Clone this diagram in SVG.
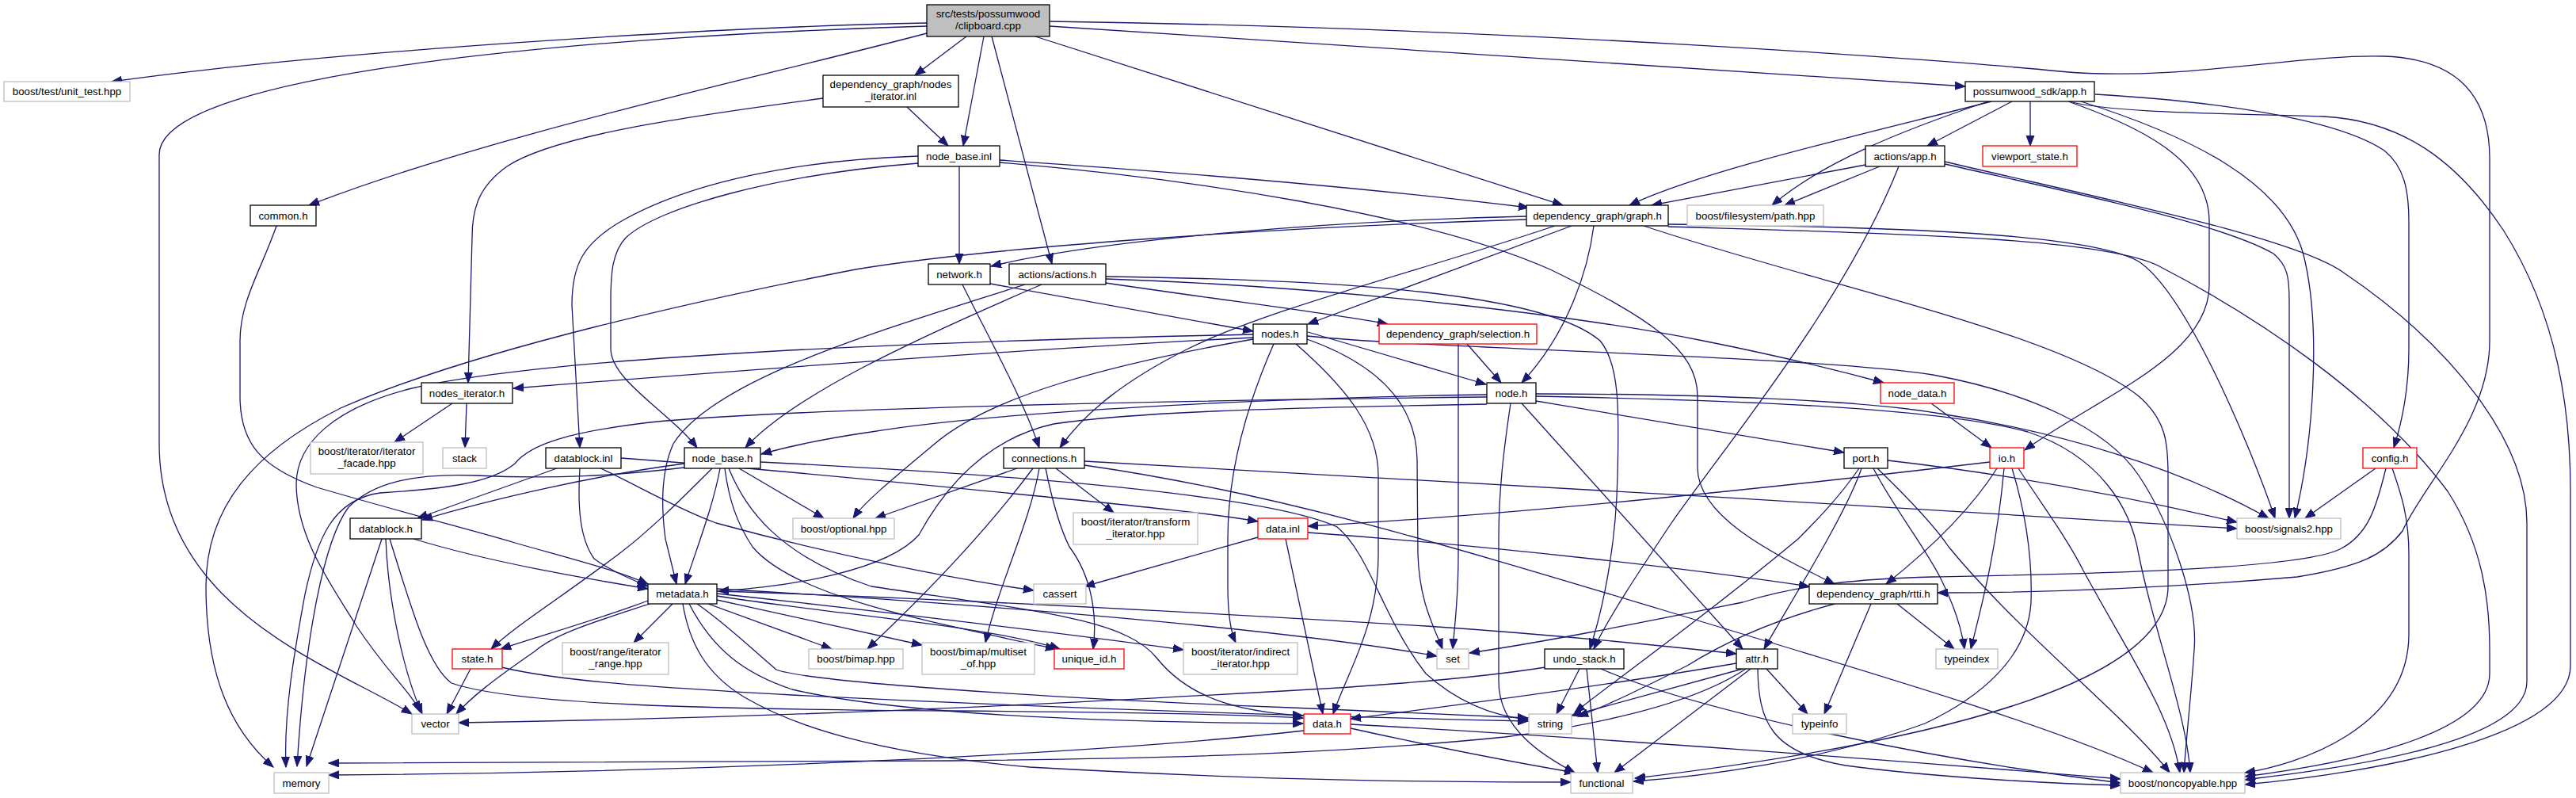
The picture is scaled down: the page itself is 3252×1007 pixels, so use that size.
<svg xmlns="http://www.w3.org/2000/svg" width="3252" height="1007" viewBox="0 0 3252 1007">
<defs>
<marker id="a" markerUnits="userSpaceOnUse" markerWidth="14" markerHeight="11" refX="13" refY="5.5" orient="auto">
<path d="M0,0.5 L13,5.5 L0,10.5 z" fill="#191970" stroke="#191970" stroke-width="1"/>
</marker>
<style>
rect{fill:#fff;stroke:#000;stroke-width:1.3}
.g rect{stroke:#bfbfbf}
.r rect{stroke:#ff0000}
.s rect{fill:#bfbfbf}
text{font-family:"Liberation Sans",Arial,sans-serif;font-size:13.3px;text-anchor:middle;fill:#000}
#edges path{fill:none;stroke:#191970;stroke-width:1.3;marker-end:url(#a)}
</style>
</defs>
<rect x="0" y="0" width="3252" height="1007" style="fill:#fff;stroke:none"/>
<g id="edges">
<path d="M1170,29 C950,33 450,60 141,103"/>
<path d="M1170,33 C760,45 201,90 201,195 L201,560 C201,770 420,840 520,901"/>
<path d="M1170,42 C950,100 620,170 390,259"/>
<path d="M1220,46 L1155,95"/>
<path d="M1242,46 L1216,184"/>
<path d="M1252,46 L1328,333"/>
<path d="M1307,46 L1973,259"/>
<path d="M1325,33 L2481,109"/>
<path d="M1325,27 C1900,35 2450,75 2600,90 C2750,104 2900,68 3010,71 C3120,75 3143,140 3143,200 L3143,430 C3143,530 3060,610 3033,670 C3010,700 2980,715 2900,728 C2700,745 2550,748 2446,748"/>
<path d="M1145,135 L1197,184"/>
<path d="M1039,124 C880,145 700,170 640,210 C605,235 596,262 596,300 L591,483"/>
<path d="M1159,197 C1000,202 870,232 790,276 C735,306 722,335 722,385 L732,565"/>
<path d="M1159,206 C980,220 830,262 790,300 C773,318 771,345 771,380 L771,440 C771,480 845,520 880,565"/>
<path d="M1211,210 L1211,333"/>
<path d="M1262,202 C1500,218 1750,240 1930,262"/>
<path d="M1262,205 C1500,225 1800,270 1957,340 C2080,400 2143,440 2143,500 L2143,590 C2143,650 2230,695 2316,737"/>
<path d="M2514,128 C2350,170 2150,215 2057,259"/>
<path d="M2510,128 C2400,165 2300,205 2237,259"/>
<path d="M2540,128 L2433,184"/>
<path d="M2563,128 L2563,184"/>
<path d="M2611,128 C2700,160 2789,200 2789,280 L2789,360 C2789,450 2650,500 2556,568"/>
<path d="M2627,128 C2760,170 2890,230 2910,330 C2930,420 2920,560 2897,654"/>
<path d="M2645,119 C2800,128 2950,150 3010,190 C3035,210 3041,240 3041,280 L3041,440 C3041,500 3030,540 3022,565"/>
<path d="M2613,128 C2660,142 2800,143 2933,147 C3030,152 3100,200 3160,290 C3230,400 3245,520 3245,620 L3245,840 C3245,930 3000,975 2834,990"/>
<path d="M2999,591 L2910,654"/>
<path d="M3012,591 C3000,640 2990,675 2954,693 C2900,720 2600,725 2440,728 C2350,730 2270,738 2200,760 C2050,790 1950,810 1855,824"/>
<path d="M3020,591 C3030,620 3041,650 3041,700 L3041,800 C3041,920 2900,965 2834,975"/>
<path d="M2355,208 L2085,259"/>
<path d="M2373,210 L2253,259"/>
<path d="M2397,210 C2330,380 2180,560 2110,660 C2070,720 2030,780 2012,819"/>
<path d="M2455,207 C2600,240 2800,280 2870,320 C2888,335 2890,350 2890,380 L2890,654"/>
<path d="M2455,204 C2650,250 2900,300 2960,345 C3100,440 3190,560 3190,660 L3190,860 C3190,940 2950,970 2834,984"/>
<path d="M1927,273 C1700,278 1400,300 1251,336"/>
<path d="M1927,277 C1600,287 1250,312 1080,340 C900,375 600,440 430,515 C320,570 260,640 260,740 C260,850 290,920 345,968"/>
<path d="M1984,285 L1651,409"/>
<path d="M1963,285 C1800,340 1600,390 1500,440 C1420,480 1370,520 1338,565"/>
<path d="M2012,285 C2005,340 1980,420 1921,483"/>
<path d="M2106,283 C2400,286 2640,295 2700,330 C2760,370 2840,560 2872,654"/>
<path d="M2106,286 C2400,295 2650,300 2724,335 C2850,400 3000,500 3090,620 C3135,690 3143,760 3143,820 L3143,850 C3143,930 2950,965 2834,980"/>
<path d="M2075,285 C2300,360 2600,420 2700,500 C2735,530 2737,560 2737,600 L2737,740 C2737,850 2500,930 2064,982"/>
<path d="M1250,358 L1582,418"/>
<path d="M1215,359 C1250,430 1290,500 1312,565"/>
<path d="M1294,359 C1100,420 900,480 850,560 C832,600 836,650 840,680 L854,737"/>
<path d="M1315,359 C1150,430 1000,500 941,565"/>
<path d="M1396,349 C1700,353 1950,370 2020,430 C2045,460 2044,520 2042,600 C2040,700 2020,780 2007,819"/>
<path d="M1396,352 C1700,362 2000,400 2150,430 C2250,450 2330,470 2378,483"/>
<path d="M1396,357 C1550,380 1680,395 1752,409"/>
<path d="M1582,426 C1300,440 900,470 648,490"/>
<path d="M1582,422 C1200,430 700,448 520,490 C420,515 375,560 374,610 C374,680 420,740 450,790 C490,850 520,875 530,898"/>
<path d="M1582,428 C1400,460 1250,500 1180,560 C1120,610 1090,635 1077,654"/>
<path d="M1608,434 C1570,520 1550,600 1550,680 L1550,740 C1550,780 1555,800 1560,811"/>
<path d="M1636,434 C1700,490 1740,540 1740,600 L1740,700 C1740,790 1700,850 1683,901"/>
<path d="M1650,428 C1740,460 1788,510 1789,580 L1790,700 C1792,760 1810,790 1821,819"/>
<path d="M1651,419 L1876,485"/>
<path d="M1650,424 C1800,440 2300,450 2440,473 C2560,495 2660,540 2700,600 C2740,660 2775,760 2770,820 C2766,880 2760,930 2757,975"/>
<path d="M1852,434 L1895,483"/>
<path d="M1841,434 L1841,700 C1841,760 1836,790 1834,819"/>
<path d="M1877,498 C1600,502 1250,520 1100,545 C1030,555 990,565 961,573"/>
<path d="M1877,501 C1500,505 1000,515 820,533 C720,545 670,560 650,585 C620,610 560,617 480,622 C420,630 400,680 385,750 C372,820 358,900 361,968"/>
<path d="M1877,510 C1600,515 1430,520 1330,535 C1240,555 1190,620 1160,675 C1120,720 1000,740 907,746"/>
<path d="M1939,497 C2150,497 2350,505 2450,522 C2600,545 2750,590 2864,654"/>
<path d="M1939,500 C2200,505 2450,515 2560,545 C2650,575 2690,640 2700,700 C2720,800 2760,900 2765,975"/>
<path d="M1939,506 L2328,571"/>
<path d="M1907,509 C1898,570 1892,620 1892,680 L1892,860 C1892,920 1950,955 1988,975"/>
<path d="M1921,509 L2200,819"/>
<path d="M864,585 C750,600 620,630 533,656"/>
<path d="M864,590 C780,600 700,605 600,600 C520,597 470,610 440,640 C410,680 385,800 375,967"/>
<path d="M899,591 C860,630 820,670 780,700 C700,760 650,790 620,819"/>
<path d="M909,591 C900,640 880,690 865,737"/>
<path d="M915,591 C920,630 930,660 950,690 C1000,750 1150,780 1333,819"/>
<path d="M920,591 C940,640 980,700 1100,740 C1300,770 1420,780 1460,830 C1500,880 1560,898 1645,903"/>
<path d="M933,591 L1040,654"/>
<path d="M960,583 C1300,600 1600,625 1688,665 C1730,700 1745,780 1800,850 C1850,895 1900,905 1929,908"/>
<path d="M1284,591 L1105,654"/>
<path d="M1304,591 C1260,650 1200,720 1095,819"/>
<path d="M1312,591 C1300,660 1260,740 1244,811"/>
<path d="M1320,591 C1330,640 1340,670 1350,690 C1380,730 1385,780 1380,819"/>
<path d="M1333,591 L1406,647"/>
<path d="M1369,582 C1700,600 2400,640 2824,667"/>
<path d="M1369,587 C1600,620 1800,680 2100,770 C2400,860 2600,920 2718,975"/>
<path d="M2383,581 C2550,600 2700,630 2824,659"/>
<path d="M2347,591 C2320,630 2290,660 2270,680 C2150,780 2050,850 1988,899"/>
<path d="M2350,591 C2330,650 2260,760 2227,819"/>
<path d="M2365,591 C2390,640 2430,690 2450,730 C2465,760 2476,790 2480,819"/>
<path d="M2370,591 C2400,620 2440,660 2460,690 C2550,800 2680,900 2739,975"/>
<path d="M2512,583 C2200,620 1900,650 1651,664"/>
<path d="M2521,591 C2490,640 2440,690 2381,737"/>
<path d="M2530,591 C2520,700 2500,770 2488,819"/>
<path d="M2540,591 C2555,640 2566,700 2564,760 C2560,830 2500,880 2430,913 C2300,960 2150,980 2062,986"/>
<path d="M2548,591 C2580,640 2610,680 2630,720 C2690,830 2740,900 2752,975"/>
<path d="M2438,509 L2514,565"/>
<path d="M703,591 L527,654"/>
<path d="M732,591 C729,640 732,680 750,705 C770,720 795,730 818,740"/>
<path d="M784,578 C950,590 1150,610 1300,625 C1450,640 1530,648 1588,658"/>
<path d="M758,591 C800,610 850,640 904,660 C1050,700 1200,730 1305,745"/>
<path d="M349,285 C330,340 303,380 303,430 L303,500 C303,560 330,590 400,615 C520,650 600,670 650,685 C720,705 780,720 818,737"/>
<path d="M571,509 L498,558"/>
<path d="M589,509 L587,565"/>
<path d="M482,680 L387,967"/>
<path d="M487,680 C490,760 510,850 533,901"/>
<path d="M492,680 C520,770 540,840 570,862 C650,890 900,895 1200,897 C1450,899 1580,902 1645,906"/>
<path d="M522,680 C620,710 740,730 818,743"/>
<path d="M594,844 L564,901"/>
<path d="M633,842 C700,858 800,866 1000,877 C1400,897 1700,905 1929,910"/>
<path d="M818,758 C760,780 690,800 632,819"/>
<path d="M820,762 C750,785 700,800 675,822 C620,860 595,880 576,901"/>
<path d="M849,762 L800,811"/>
<path d="M862,762 C870,810 890,850 940,880 C1000,915 1100,950 1300,968 C1600,985 1800,987 1983,987"/>
<path d="M870,762 C900,820 940,850 1000,870 C1150,905 1450,912 1645,913"/>
<path d="M880,762 C920,790 950,820 980,845 C1020,860 1300,880 1630,893 C1800,900 1880,904 1929,906"/>
<path d="M894,762 L1050,819"/>
<path d="M905,757 L1164,814"/>
<path d="M905,752 C1050,775 1250,790 1338,819"/>
<path d="M905,749 C1100,770 1350,800 1494,820"/>
<path d="M905,746 C1200,755 1600,778 1800,790 C1950,800 2100,815 2192,825"/>
<path d="M905,743 C1200,760 1600,790 1814,828"/>
<path d="M1588,678 L1369,740"/>
<path d="M1623,680 L1670,901"/>
<path d="M1651,672 C1900,690 2150,720 2284,740"/>
<path d="M2362,762 L2303,901"/>
<path d="M2395,762 L2467,819"/>
<path d="M2316,762 C2230,785 2170,815 2130,840 C2070,870 2030,890 1992,904"/>
<path d="M1951,842 C1850,858 1700,868 1620,872 C1300,890 1000,905 579,912"/>
<path d="M1994,844 L1965,901"/>
<path d="M2003,844 L2017,975"/>
<path d="M2021,844 C2150,900 2450,960 2677,988"/>
<path d="M2192,837 C2000,870 1800,895 1705,907"/>
<path d="M2200,844 L1984,903"/>
<path d="M2204,844 C2150,880 2050,910 1900,930 C1700,950 1500,957 1200,960 C900,962 600,962 415,963"/>
<path d="M2210,844 L2038,975"/>
<path d="M2230,844 L2282,901"/>
<path d="M2219,844 C2220,910 2235,950 2330,966 C2450,982 2600,989 2677,991"/>
<path d="M1646,922 C1400,950 900,975 415,978"/>
<path d="M1705,919 C1800,940 1900,960 1988,975"/>
<path d="M1705,914 C2000,930 2400,960 2677,983"/>
</g>
<g id="n_clip" class="s"><rect x="1170" y="6" width="155" height="40"/><text x="1247.5" y="22">src/tests/possumwood</text><text x="1247.5" y="37">/clipboard.cpp</text></g>
<g id="n_unit" class="g"><rect x="5" y="103" width="159" height="25"/><text x="84.5" y="120">boost/test/unit_test.hpp</text></g>
<g id="n_common"><rect x="316" y="259" width="83" height="26"/><text x="357.5" y="276.5">common.h</text></g>
<g id="n_nii"><rect x="1039" y="95" width="171" height="40"/><text x="1124.5" y="111">dependency_graph/nodes</text><text x="1124.5" y="126">_iterator.inl</text></g>
<g id="n_nbi"><rect x="1159" y="184" width="103" height="26"/><text x="1210.5" y="201.5">node_base.inl</text></g>
<g id="n_sdk"><rect x="2481" y="103" width="163" height="25"/><text x="2562.5" y="120">possumwood_sdk/app.h</text></g>
<g id="n_aapp"><rect x="2355" y="184" width="100" height="26"/><text x="2405" y="201.5">actions/app.h</text></g>
<g id="n_vps" class="r"><rect x="2503" y="184" width="119" height="26"/><text x="2562.5" y="201.5">viewport_state.h</text></g>
<g id="n_graph"><rect x="1927" y="259" width="179" height="26"/><text x="2016.5" y="276.5">dependency_graph/graph.h</text></g>
<g id="n_fsp" class="g"><rect x="2130" y="259" width="172" height="26"/><text x="2216" y="276.5">boost/filesystem/path.hpp</text></g>
<g id="n_net"><rect x="1172" y="333" width="78" height="26"/><text x="1211" y="350.5">network.h</text></g>
<g id="n_act"><rect x="1274" y="333" width="122" height="26"/><text x="1335" y="350.5">actions/actions.h</text></g>
<g id="n_nodes"><rect x="1582" y="409" width="68" height="25"/><text x="1616" y="426">nodes.h</text></g>
<g id="n_sel" class="r"><rect x="1741" y="409" width="199" height="25"/><text x="1840.5" y="426">dependency_graph/selection.h</text></g>
<g id="n_node"><rect x="1877" y="483" width="62" height="26"/><text x="1908" y="500.5">node.h</text></g>
<g id="n_ndata" class="r"><rect x="2374" y="483" width="93" height="26"/><text x="2420.5" y="500.5">node_data.h</text></g>
<g id="n_nith"><rect x="532" y="483" width="115" height="26"/><text x="589.5" y="500.5">nodes_iterator.h</text></g>
<g id="n_fac" class="g"><rect x="392" y="558" width="142" height="40"/><text x="463" y="574">boost/iterator/iterator</text><text x="463" y="589">_facade.hpp</text></g>
<g id="n_stack" class="g"><rect x="559" y="565" width="55" height="26"/><text x="586.5" y="582.5">stack</text></g>
<g id="n_dbi"><rect x="689" y="565" width="95" height="26"/><text x="736.5" y="582.5">datablock.inl</text></g>
<g id="n_nbh"><rect x="864" y="565" width="96" height="26"/><text x="912" y="582.5">node_base.h</text></g>
<g id="n_conn"><rect x="1267" y="565" width="102" height="26"/><text x="1318" y="582.5">connections.h</text></g>
<g id="n_port"><rect x="2328" y="565" width="55" height="26"/><text x="2355.5" y="582.5">port.h</text></g>
<g id="n_io" class="r"><rect x="2512" y="565" width="43" height="26"/><text x="2533.5" y="582.5">io.h</text></g>
<g id="n_config" class="r"><rect x="2983" y="565" width="68" height="26"/><text x="3017" y="582.5">config.h</text></g>
<g id="n_dbh"><rect x="442" y="654" width="90" height="26"/><text x="487" y="671.5">datablock.h</text></g>
<g id="n_opt" class="g"><rect x="1001" y="654" width="128" height="26"/><text x="1065" y="671.5">boost/optional.hpp</text></g>
<g id="n_trans" class="g"><rect x="1355" y="647" width="157" height="40"/><text x="1433.5" y="663">boost/iterator/transform</text><text x="1433.5" y="678">_iterator.hpp</text></g>
<g id="n_dinl" class="r"><rect x="1588" y="654" width="63" height="26"/><text x="1619.5" y="671.5">data.inl</text></g>
<g id="n_sig" class="g"><rect x="2824" y="654" width="131" height="26"/><text x="2889.5" y="671.5">boost/signals2.hpp</text></g>
<g id="n_meta"><rect x="818" y="737" width="87" height="25"/><text x="861.5" y="754">metadata.h</text></g>
<g id="n_cassert" class="g"><rect x="1305" y="737" width="66" height="25"/><text x="1338" y="754">cassert</text></g>
<g id="n_rtti"><rect x="2284" y="737" width="162" height="25"/><text x="2365" y="754">dependency_graph/rtti.h</text></g>
<g id="n_state" class="r"><rect x="571" y="819" width="63" height="25"/><text x="602.5" y="836">state.h</text></g>
<g id="n_range" class="g"><rect x="710" y="811" width="134" height="40"/><text x="777" y="827">boost/range/iterator</text><text x="777" y="842">_range.hpp</text></g>
<g id="n_bimap" class="g"><rect x="1021" y="819" width="119" height="25"/><text x="1080.5" y="836">boost/bimap.hpp</text></g>
<g id="n_mset" class="g"><rect x="1164" y="811" width="142" height="40"/><text x="1235" y="827">boost/bimap/multiset</text><text x="1235" y="842">_of.hpp</text></g>
<g id="n_uid" class="r"><rect x="1331" y="819" width="88" height="25"/><text x="1375" y="836">unique_id.h</text></g>
<g id="n_ind" class="g"><rect x="1494" y="811" width="144" height="40"/><text x="1566" y="827">boost/iterator/indirect</text><text x="1566" y="842">_iterator.hpp</text></g>
<g id="n_set" class="g"><rect x="1814" y="819" width="40" height="25"/><text x="1834" y="836">set</text></g>
<g id="n_undo"><rect x="1950" y="819" width="100" height="25"/><text x="2000" y="836">undo_stack.h</text></g>
<g id="n_attr"><rect x="2192" y="819" width="52" height="25"/><text x="2218" y="836">attr.h</text></g>
<g id="n_tidx" class="g"><rect x="2444" y="819" width="78" height="25"/><text x="2483" y="836">typeindex</text></g>
<g id="n_vec" class="g"><rect x="520" y="901" width="59" height="25"/><text x="549.5" y="918">vector</text></g>
<g id="n_datah" class="r"><rect x="1646" y="901" width="59" height="25"/><text x="1675.5" y="918">data.h</text></g>
<g id="n_str" class="g"><rect x="1930" y="901" width="54" height="25"/><text x="1957" y="918">string</text></g>
<g id="n_tinfo" class="g"><rect x="2263" y="901" width="68" height="25"/><text x="2297" y="918">typeinfo</text></g>
<g id="n_mem" class="g"><rect x="346" y="975" width="69" height="26"/><text x="380.5" y="992.5">memory</text></g>
<g id="n_func" class="g"><rect x="1983" y="975" width="78" height="26"/><text x="2022" y="992.5">functional</text></g>
<g id="n_nonc" class="g"><rect x="2677" y="975" width="157" height="26"/><text x="2755.5" y="992.5">boost/noncopyable.hpp</text></g>
</svg>
